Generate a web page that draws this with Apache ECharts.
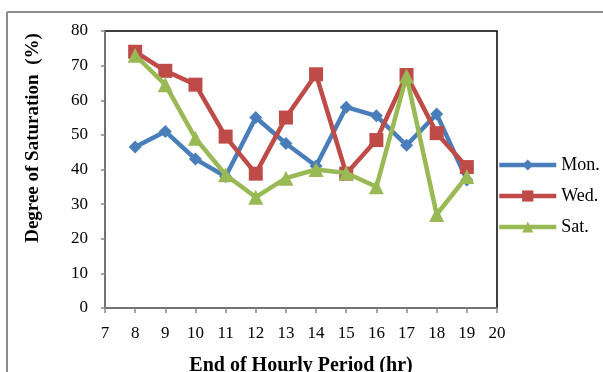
<!DOCTYPE html>
<html><head><meta charset="utf-8">
<script src="https://cdn.jsdelivr.net/npm/echarts@6/dist/echarts.min.js"></script>
<style>html,body{margin:0;padding:0;background:#fff}#c{width:603px;height:372px}</style>
</head><body><div id="c"></div>
<script>
const hours = [8, 9, 10, 11, 12, 13, 14, 15, 16, 17, 18, 19];
const mon = [46.5, 51, 43, 38, 55, 47.5, 41, 58, 55.5, 47, 56, 37];
const wed = [74, 68.5, 64.5, 49.5, 38.8, 55, 67.5, 38.8, 48.5, 67.3, 50.5, 40.7];
const sat = [73, 64.5, 49, 38.5, 32, 37.5, 40, 39, 35, 67, 27, 38];
const seriesNames = ['Mon.', 'Wed.', 'Sat.'];
const colors = ['#4a7ebb', '#be4b48', '#98b954'];
const symbols = ['diamond', 'rect', 'triangle'];
const sizes = [13, 14, 15];
const allData = [mon, wed, sat];
const yTitle = 'Degree of Saturation  (%)';
const xTitle = 'End of Hourly Period (hr)';

const chart = echarts.init(document.getElementById('c'));
const font = '"Liberation Serif", "Times New Roman", serif';
chart.setOption({
  animation: false,
  backgroundColor: '#fff',
  grid: {left: 105, right: 106, top: 31, bottom: 64, outerBoundsMode: 'none', containLabel: false,
         show: true, borderColor: '#000', borderWidth: 1.5, backgroundColor: 'transparent'},
  graphic: [
    {type: 'line', shape: {x1: 7, y1: 12, x2: 603, y2: 12}, style: {stroke: '#8c8c8c', lineWidth: 2}},
    {type: 'line', shape: {x1: 7, y1: 12, x2: 7, y2: 372}, style: {stroke: '#8c8c8c', lineWidth: 2}},
    {type: 'text', x: 33, y: 138, rotation: Math.PI / 2,
     style: {text: yTitle, font: 'bold 19px ' + font, fill: '#000', align: 'center', verticalAlign: 'middle'}}
  ],
  xAxis: {
    type: 'value', min: 7, max: 20, interval: 1,
    name: xTitle, nameLocation: 'middle', nameGap: 48,
    nameTextStyle: {fontFamily: font, fontWeight: 'bold', fontSize: 20, color: '#000'},
    axisLine: {show: true, lineStyle: {color: '#868686', width: 1.5}},
    axisTick: {show: true, length: 5, lineStyle: {color: '#868686', width: 1.5}},
    axisLabel: {fontFamily: font, fontSize: 17, color: '#000', margin: 17},
    splitLine: {show: false}
  },
  yAxis: {
    type: 'value', min: 0, max: 80, interval: 10,
    axisLine: {show: true, lineStyle: {color: '#868686', width: 1.5}},
    axisTick: {show: true, length: 4, lineStyle: {color: '#868686', width: 1.5}},
    axisLabel: {fontFamily: font, fontSize: 17, color: '#000', margin: 17},
    splitLine: {show: false}
  },
  legend: {
    orient: 'vertical', left: 497, top: 156, itemGap: 13, padding: 0,
    itemWidth: 57, itemHeight: 14,
    lineStyle: {width: 4.5},
    textStyle: {fontFamily: font, fontSize: 18, color: '#000', lineHeight: 18, padding: [0, 0, 0, 0]},
    data: seriesNames
  },
  series: seriesNames.map((n, i) => ({
    name: n, type: 'line',
    data: hours.map((h, j) => [h, allData[i][j]]),
    symbol: symbols[i], symbolSize: sizes[i],
    itemStyle: {color: colors[i]},
    lineStyle: {color: colors[i], width: 4.5},
    z: 2 + i
  }))
});
</script></body></html>
